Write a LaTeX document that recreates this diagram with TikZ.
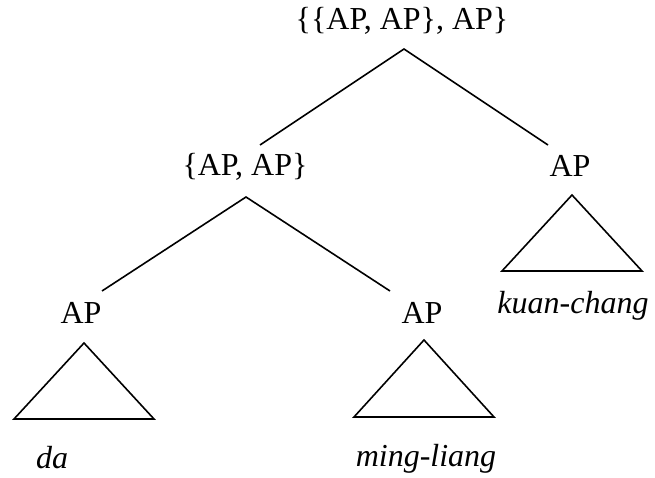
\documentclass[tikz,border=0pt]{standalone}
\usepackage{fontspec}
\setmainfont{Liberation Serif}
\begin{document}
\begin{tikzpicture}[x=1pt,y=-1pt,
  lab/.style={inner sep=0pt,anchor=base,font=\fontsize{32}{38}\selectfont},
  word/.style={lab,font=\fontsize{32}{38}\selectfont\itshape},
  branch/.style={line width=1.6pt},
  tri/.style={line width=1.6pt,line join=miter}]
\useasboundingbox (0,0) rectangle (655,478);
% labels
\node[lab] (top) at (402,30) {\{\{AP, AP\}, AP\}};
\node[lab] (mid) at (245,176) {\{AP, AP\}};
\node[lab] (apR) at (570,177) {AP};
\node[lab] (apL) at (81,323) {AP};
\node[lab] (apM) at (422,323) {AP};
\node[word] (kuan) at (573,313) {kuan-chang};
\node[word] (da) at (52,468) {da};
\node[word] (ming) at (426,466) {ming-liang};
% branch points
\coordinate (topA) at (404,49);
\coordinate (topL) at (260,145);
\coordinate (topR) at (548,145);
\coordinate (midA) at (246,197);
\coordinate (midL) at (102,291);
\coordinate (midR) at (390,291);
\draw[branch] (topL) -- (topA) -- (topR);
\draw[branch] (midL) -- (midA) -- (midR);
% triangles
\draw[tri] (572,195) -- (642,271) -- (502,271) -- cycle;
\draw[tri] (84,343) -- (154,419) -- (14,419) -- cycle;
\draw[tri] (424,340) -- (494,417) -- (354,417) -- cycle;
\end{tikzpicture}
\end{document}
